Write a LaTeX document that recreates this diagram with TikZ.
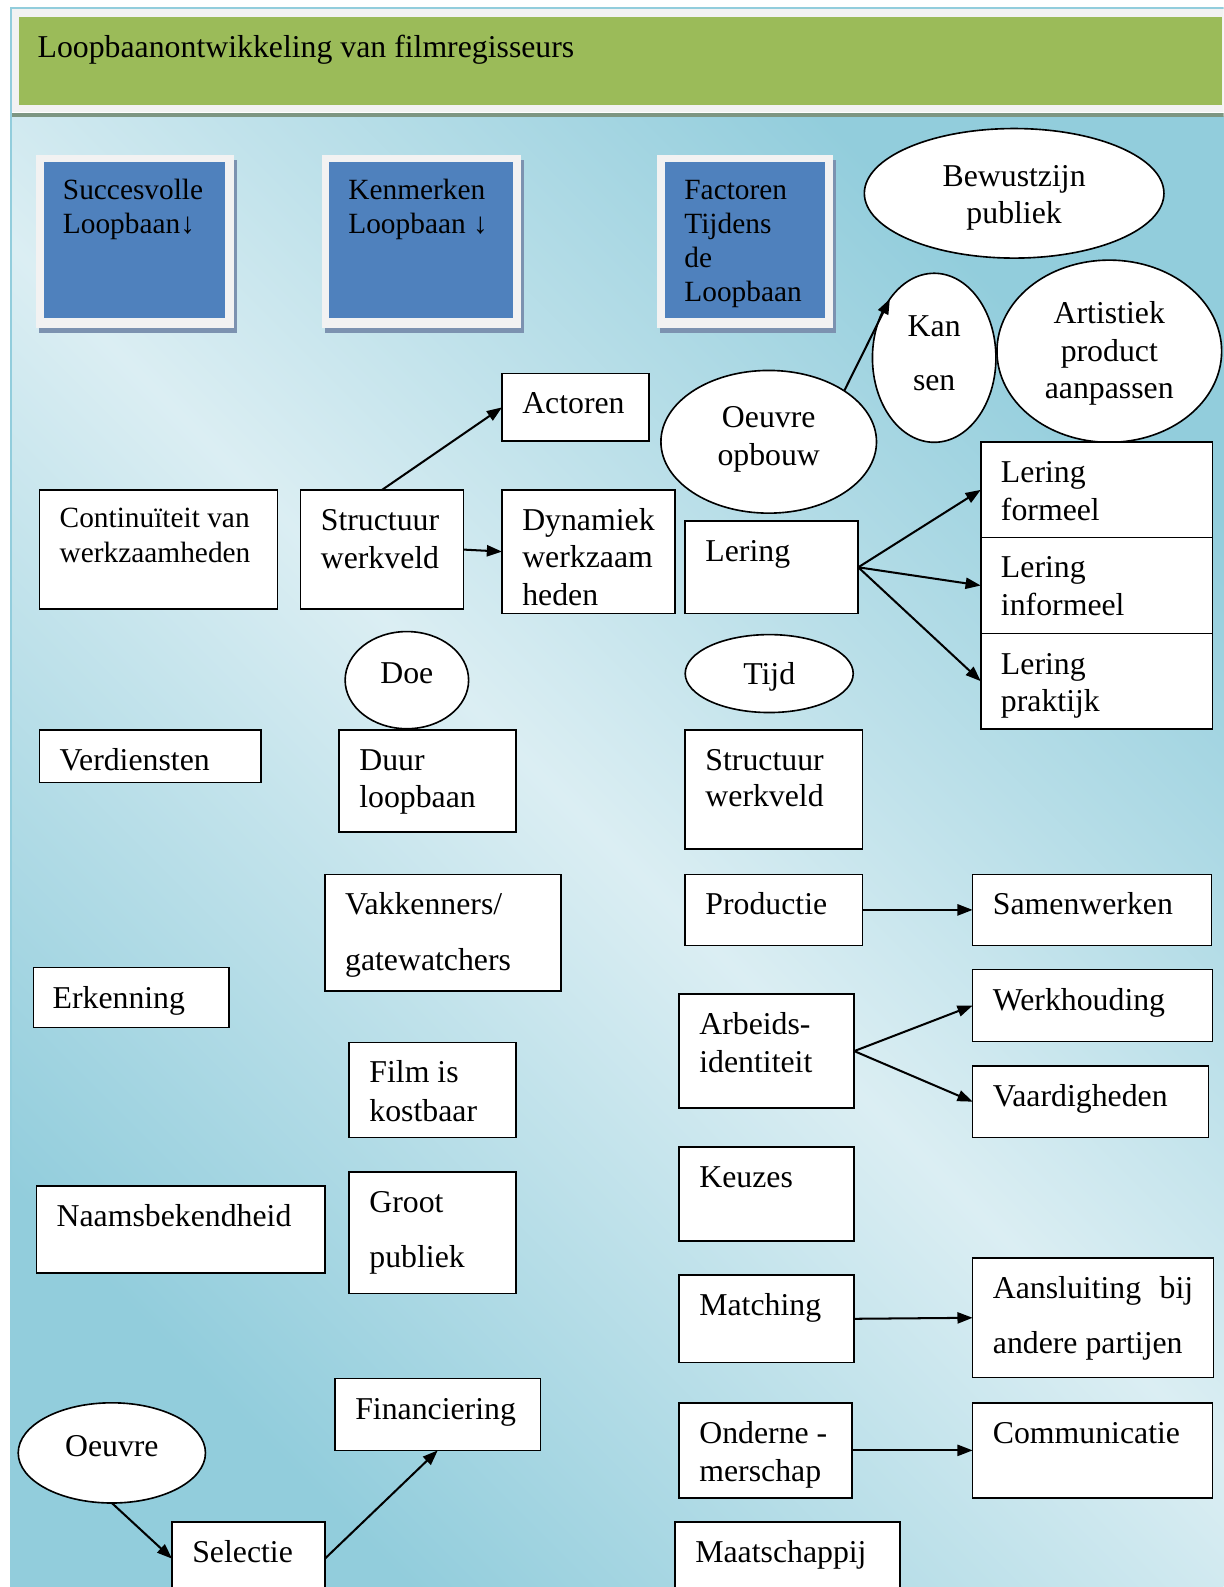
\documentclass[tikz,border=0pt]{standalone}
\usepackage{fontspec}
\setmainfont{Liberation Serif}
\usetikzlibrary{arrows.meta,shapes.geometric}

\definecolor{gbar}{HTML}{9BBB59}
\definecolor{frm}{HTML}{F2F2F2}
\definecolor{bluebox}{HTML}{4F81BD}
\definecolor{shad}{RGB}{124,146,176}
\definecolor{bgdark}{HTML}{92CDDC}
\definecolor{bglight}{HTML}{DBEEF3}
\definecolor{sepline}{RGB}{125,150,130}
\definecolor{ltline}{HTML}{92CDDC}

% box text: width, height, baselineskip, x offset, first baseline offset, lines
\newcommand\btx[6]{\hbox to #1pt{\vbox to #2pt{\vskip #5pt\hbox{\hskip #4pt\raisebox{0pt}[0pt][0pt]{\vtop{\baselineskip=#3pt\relax #6}}}\vss}\hss}}
\newcommand\bt[4]{\btx{#1}{#2}{#3}{20}{40}{#4}}
\newcommand\li[1]{\hbox{#1}}
% centred text for ellipses: raise of first baseline, baselineskip, lines
\newcommand\ct[3]{\makebox[0pt]{\raisebox{#1pt}[0pt][0pt]{\vtop{\baselineskip=#2pt\relax\halign{\hfil##\hfil\cr#3\crcr}}}}}

\begin{document}
\begin{tikzpicture}[x=1pt,y=-1pt,
  every node/.style={font=\fontsize{31.4}{37}\selectfont},
  box/.style={draw, fill=white, line width=1.6pt, anchor=north west, inner sep=0pt, outer sep=0pt},
  ell/.style={draw, fill=white, ellipse, line width=1.6pt, inner sep=0pt, outer sep=0pt},
  hdr/.style={fill=bluebox, anchor=north west, inner sep=0pt, font=\fontsize{29}{33.5}\selectfont},
  arr/.style={-{Triangle[length=15pt,width=11pt]}, line width=2pt}]

\useasboundingbox (0,0) rectangle (1209,1568);
\clip (0,0) rectangle (1209,1568);
\fill[white] (0,0) rectangle (1209,1568);

% header band
\fill[frm] (10,8) rectangle (1209,111);
\fill[gbar] (19,17) rectangle (1207,104);
\node[anchor=base west, inner sep=0pt] (title) at (37,57) {Loopbaanontwikkeling van filmregisseurs};

% gradient area
\shade[top color=bgdark, bottom color=bgdark, middle color=bglight, shading angle=-45] (11,115.5) rectangle (1209,1568);
\fill[sepline] (11,111.5) rectangle (1209,115.5);
\draw[ltline, line width=1.8pt] (10.5,1568) -- (10.5,8) -- (1209,8);

% blue header boxes
\fill[shad] (39,158) rectangle (234,329);
\fill[frm] (36,153) rectangle (231,324);
\node[hdr] (h1) at (43,160) {\btx{179}{154}{33.5}{19}{37}{\li{Succesvolle}\li{Loopbaan↓}}};
\fill[shad] (321,158) rectangle (518,329);
\fill[frm] (318,153) rectangle (515,324);
\node[hdr] (h2) at (325,160) {\btx{182}{154}{33.5}{19}{37}{\li{Kenmerken}\li{Loopbaan ↓}}};
\fill[shad] (652,158) rectangle (826,329);
\fill[frm] (649,153) rectangle (823,324);
\node[hdr] (h3) at (657,160) {\btx{158}{154}{33.5}{19}{37}{\li{Factoren}\li{Tijdens}\li{de}\li{Loopbaan}}};

% ellipses
\node[ell, minimum width=296pt, minimum height=128pt] (bew) at (1002,191) {\ct{7}{37}{Bewustzijn\cr publiek}};
\node[ell, minimum width=122pt, minimum height=167pt] (kan) at (923,353.5) {\ct{21.5}{54}{Kan\cr sen}};
\node[ell, minimum width=222pt, minimum height=180pt] (art) at (1096,347) {\ct{27}{37}{Artistiek\cr product\cr aanpassen}};
\node[ell, minimum width=213pt, minimum height=141pt] (oo) at (759.5,436.5) {\ct{14.5}{38}{Oeuvre\cr opbouw}};
\node[ell, minimum width=122pt, minimum height=96pt] (doe) at (402,672) {\ct{-3}{37}{Doe}};
\node[ell, minimum width=166pt, minimum height=77pt] (tijd) at (760,665.5) {\ct{-10.5}{37}{Tijd}};
\node[ell, minimum width=185pt, minimum height=99pt] (oeu) at (110.5,1435.5) {\ct{-3.5}{37}{Oeuvre}};

% boxes
\node[box] (act) at (496,369) {\bt{145}{67}{37}{\li{Actoren}}};
\node[box, font=\fontsize{29}{35}\selectfont] (cont) at (39,484) {\btx{235}{118}{35}{20}{37}{\li{Continuïteit van}\li{werkzaamheden}}};
\node[box] (sw1) at (297,484) {\bt{161}{118}{38}{\li{Structuur}\li{werkveld}}};
\node[box] (dyn) at (496,484) {\bt{171}{122}{37}{\li{Dynamiek}\li{werkzaam}\li{heden}}};
\node[box] (ler) at (677,515) {\bt{171}{91}{37}{\li{Lering}}};
\node[box] (lf) at (969,437) {\bt{229}{94}{37}{\li{Lering}\li{formeel}}};
\node[box] (li) at (969,531) {\bt{229}{95}{37}{\li{Lering}\li{informeel}}};
\node[box] (lp) at (969,626) {\bt{229}{94}{37}{\li{Lering}\li{praktijk}}};
\node[box] (verd) at (39,721) {\bt{219}{52}{37}{\li{Verdiensten}}};
\node[box] (duur) at (335,721) {\bt{175}{101}{37}{\li{Duur}\li{loopbaan}}};
\node[box] (sw2) at (677,721) {\bt{175}{118}{36}{\li{Structuur}\li{werkveld}}};
\node[box] (vak) at (321,864) {\bt{233}{115}{55}{\li{Vakkenners/}\li{gatewatchers}}};
\node[box] (prod) at (677,864) {\bt{175}{70}{37}{\li{Productie}}};
\node[box] (sam) at (961,864) {\bt{236}{70}{37}{\li{Samenwerken}}};
\node[box] (erk) at (33,956) {\btx{193}{59}{37}{19}{40}{\li{Erkenning}}};
\node[box] (werk) at (961,958) {\bt{237}{71}{37}{\li{Werkhouding}}};
\node[box] (arb) at (671,982) {\bt{173}{113}{38}{\li{Arbeids-}\li{identiteit}}};
\node[box] (vaar) at (961,1053) {\bt{233}{71}{37}{\li{Vaardigheden}}};
\node[box] (film) at (345,1030) {\bt{165}{94}{38}{\li{Film is}\li{kostbaar}}};
\node[box] (keu) at (671,1133) {\bt{173}{93}{37}{\li{Keuzes}}};
\node[box] (naam) at (36,1172) {\bt{285}{86}{37}{\li{Naamsbekendheid}}};
\node[box] (groot) at (345,1158) {\bt{165}{120}{54}{\li{Groot}\li{publiek}}};
\node[box] (match) at (671,1260) {\bt{173}{86}{37}{\li{Matching}}};
\node[box] (aans) at (961,1243) {\bt{238}{118}{54}{\hbox to 198pt{Aansluiting\hfill bij}\li{andere partijen}}};
\node[box] (fin) at (331,1362) {\bt{203}{71}{37}{\li{Financiering}}};
\node[box] (ond) at (671,1386) {\bt{171}{94}{38}{\li{Onderne -}\li{merschap}}};
\node[box] (comm) at (961,1386) {\bt{237}{94}{37}{\li{Communicatie}}};
\node[box] (sel) at (170,1504) {\bt{151}{72}{37}{\li{Selectie}}};
\node[box] (maat) at (667,1504) {\bt{222}{76}{37}{\li{Maatschappij}}};

% connectors
\draw[arr] (oo.34) -- (kan.127);
\draw[arr] (sw1.north) -- (act.west);
\draw[arr] (sw1.east) -- (dyn.west);
\draw[arr] (ler.east) -- (lf.west);
\draw[arr] (ler.east) -- (li.west);
\draw[arr] (ler.east) -- (lp.west);
\draw[arr] (prod.east) -- (sam.west);
\draw[arr] (arb.east) -- (werk.west);
\draw[arr] (arb.east) -- (vaar.west);
\draw[arr] (match.east) -- (aans.west);
\draw[arr] (ond.east) -- (comm.west);
\draw[arr] (oeu.south) -- (sel.west);
\draw[arr] (sel.east) -- (fin.south);
\end{tikzpicture}
\end{document}
